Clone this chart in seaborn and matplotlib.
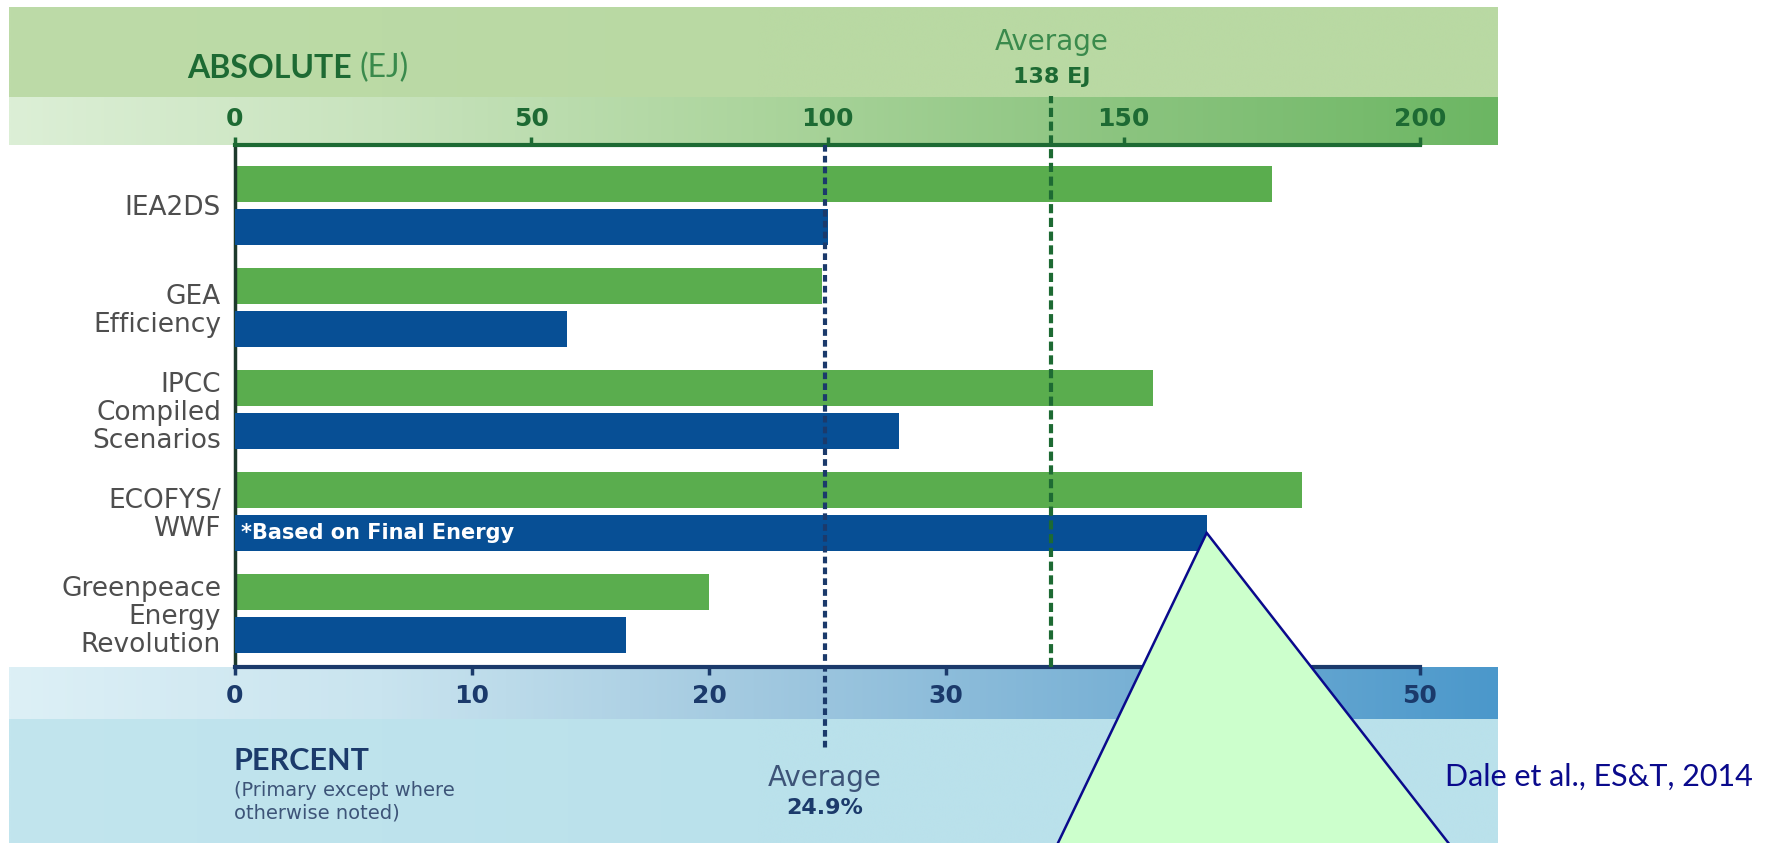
import numpy as np
import pandas as pd
import matplotlib
matplotlib.use("Agg")
import matplotlib.pyplot as plt
import matplotlib.transforms as mtransforms
from matplotlib.lines import Line2D
from matplotlib.patches import Polygon
from matplotlib.colors import LinearSegmentedColormap
import seaborn as sns

# ---- data -------------------------------------------------------------
scenarios = [
    "IEA2DS",
    "GEA\nEfficiency",
    "IPCC\nCompiled\nScenarios",
    "ECOFYS/\nWWF",
    "Greenpeace\nEnergy\nRevolution",
]
absolute_ej = [175, 99, 155, 180, 80]          # bioenergy, EJ
percent_share = [25, 14, 28, 41, 16.5]         # share of primary energy, %
ej_ticks = [0, 50, 100, 150, 200]
pct_ticks = [0, 10, 20, 30, 40, 50]
series_order = ["Absolute", "Percent"]
note_text = "*Based on Final Energy"
note_scenario = "ECOFYS/\nWWF"
source_text = "Dale et al., ES&T, 2014"

avg_ej = float(np.mean(absolute_ej))
avg_pct = float(np.mean(percent_share))

# ---- colours ----------------------------------------------------------
GREEN_BAR = "#5aad4e"
BLUE_BAR = "#074f95"
GREEN_DARK = "#1d6a33"
NAVY = "#1b3a6b"
LABEL_GREY = "#4e4e4e"

W, H = 1773, 843
sns.set_theme(style="white")
plt.rcParams["font.family"] = ["DejaVu Sans"]

fig = plt.figure(figsize=(W / 100, H / 100), dpi=100)


def fx(x):
    return x / W


def fy(y):
    return 1 - y / H


# ---- background bands -------------------------------------------------
bg = fig.add_axes([0, 0, 1, 1])
bg.set_xlim(0, W)
bg.set_ylim(H, 0)
bg.axis("off")


def hband(x0, x1, y0, y1, colors):
    cmap = LinearSegmentedColormap.from_list("band", colors)
    grad = np.linspace(0, 1, 512)[None, :]
    bg.imshow(grad, extent=(x0, x1, y1, y0), aspect="auto", cmap=cmap,
              interpolation="bicubic", zorder=1)


hband(9, 1498, 7, 97, ["#bddba8", "#b9d9a3", "#b9d9a3"])
hband(9, 1498, 97, 145, ["#dcefd6", "#c8e3bd", "#acd59d", "#8bc47f", "#6cb663"])
hband(9, 1498, 667, 719, ["#ddf0f6", "#c9e4ef", "#a2c9e0", "#79b1d5", "#4b98cb"])
hband(9, 1498, 719, H, ["#c2e5ee", "#bae1eb", "#bae1eb"])

# ---- main axes (EJ on top, percent on bottom) ----------------------------
x0_px, x1_px, y0_px, y1_px = 235, 1420, 145, 667
ax = fig.add_axes([fx(x0_px), fy(y1_px), fx(x1_px - x0_px), (y1_px - y0_px) / H])
ax.set_facecolor("none")
ax2 = ax.twiny()

df_abs = pd.DataFrame({"scenario": scenarios, "series": "Absolute", "value": absolute_ej})
df_pct = pd.DataFrame({"scenario": scenarios, "series": "Percent", "value": percent_share})
palette = {"Absolute": GREEN_BAR, "Percent": BLUE_BAR}

bar_kw = dict(x="value", y="scenario", hue="series", hue_order=series_order,
              palette=palette, order=scenarios, width=0.84, gap=0.15, dodge=True,
              saturation=1, legend=False, edgecolor="none", linewidth=0, zorder=2)
sns.barplot(data=df_abs, ax=ax, **bar_kw)
sns.barplot(data=df_pct, ax=ax2, **bar_kw)

ax.set_xlim(0, 200)
ax2.set_xlim(0, 50)
ax.set_ylim(4.525, -0.593)
for a in (ax, ax2):
    a.set_xlabel("")
    a.set_ylabel("")
    a.grid(False)

# y tick labels (scenarios)
ax.set_yticks(range(len(scenarios)))
ax.set_yticklabels(scenarios, fontsize=19, color=LABEL_GREY, linespacing=1.1)
ax.tick_params(axis="y", length=0, pad=10)

# top axis: EJ
ax.xaxis.tick_top()
ax.set_xticks(ej_ticks)
ax.set_xticklabels([str(t) for t in ej_ticks], fontsize=18, fontweight="bold", color=GREEN_DARK)
ax.tick_params(axis="x", direction="out", length=6, width=2.5, color=GREEN_DARK, pad=4)

# bottom axis: percent
ax2.xaxis.tick_bottom()
ax2.set_xticks(pct_ticks)
ax2.set_xticklabels([str(t) for t in pct_ticks], fontsize=18, fontweight="bold", color=NAVY)
ax2.tick_params(axis="x", direction="out", length=6, width=2.5, color=NAVY, pad=6)

for name, sp in ax.spines.items():
    sp.set_visible(name in ("top", "left"))
ax.spines["top"].set_color(GREEN_DARK)
ax.spines["top"].set_linewidth(3)
ax.spines["left"].set_color("#1d3a2c")
ax.spines["left"].set_linewidth(2.5)
for name, sp in ax2.spines.items():
    sp.set_visible(name == "bottom")
ax2.spines["bottom"].set_color(NAVY)
ax2.spines["bottom"].set_linewidth(3)

# ---- average lines ----------------------------------------------------
h_px = y1_px - y0_px
green_tr = mtransforms.blended_transform_factory(ax.transData, ax.transAxes)
blue_tr = mtransforms.blended_transform_factory(ax2.transData, ax2.transAxes)
ax2.add_line(Line2D([avg_ej, avg_ej], [0, (y1_px - 96) / h_px], transform=green_tr,
                    color=GREEN_DARK, lw=3, ls=(0, (2.2, 1.1)), clip_on=False, zorder=5))
ax2.add_line(Line2D([avg_pct, avg_pct], [1, (y1_px - 750) / h_px], transform=blue_tr,
                    color=NAVY, lw=3, ls=(0, (1.6, 1.0)), clip_on=False, zorder=5))

ax.text(avg_ej, (y1_px - 42) / h_px, "Average", transform=green_tr, ha="center", va="center",
        fontsize=20, color="#3a8a4c", clip_on=False)
ax.text(avg_ej, (y1_px - 77) / h_px, f"{avg_ej:.0f} EJ", transform=green_tr, ha="center",
        va="center", fontsize=16, fontweight="bold", color=GREEN_DARK, clip_on=False)
ax2.text(avg_pct, (y1_px - 778) / h_px, "Average", transform=blue_tr, ha="center", va="center",
         fontsize=20, color="#3d5478", clip_on=False)
ax2.text(avg_pct, (y1_px - 808) / h_px, f"{avg_pct:.1f}%", transform=blue_tr, ha="center",
         va="center", fontsize=16, fontweight="bold", color=NAVY, clip_on=False)

# note inside the ECOFYS percent bar
note_idx = scenarios.index(note_scenario)
ax2.text(0.25, note_idx + 0.21, note_text, ha="left", va="center", fontsize=15,
         fontweight="bold", color="white", zorder=6)

# ---- headings ---------------------------------------------------------
renderer = fig.canvas.get_renderer()
abs_head = fig.text(fx(187), fy(68), "ABSOLUTE", ha="left", va="center", fontsize=23,
                    fontweight="bold", color=GREEN_DARK, family=["Lato", "DejaVu Sans"])
abs_end = abs_head.get_window_extent(renderer).x1
fig.text(fx(abs_end + 8), fy(68), "(EJ)", ha="left", va="center", fontsize=23,
         color="#3a8a4c", family=["Lato", "DejaVu Sans"])
fig.text(fx(234), fy(761), "PERCENT", ha="left", va="center", fontsize=22,
         fontweight="bold", color=NAVY, family=["Lato", "DejaVu Sans"])
fig.text(fx(234), fy(802), "(Primary except where\notherwise noted)", ha="left", va="center",
         fontsize=14, color="#3d5478", linespacing=1.2)

# ---- callout triangle and source -------------------------------------
apex_disp = ax2.transData.transform((percent_share[note_idx], note_idx + 0.21))
apex_fig = fig.transFigure.inverted().transform(apex_disp)
tri = Polygon([apex_fig, (fx(1057), fy(H + 2)), (fx(1450), fy(H + 2))], closed=True,
              transform=fig.transFigure, facecolor="#ccffcc", edgecolor="#0a0a8c",
              linewidth=1.8, zorder=10)
fig.add_artist(tri)

fig.text(fx(1445), fy(777), source_text, ha="left", va="center", fontsize=22,
         color="#0a0a8c", family=["Lato", "DejaVu Sans"], zorder=11)

fig.savefig("out.png", dpi=100)
